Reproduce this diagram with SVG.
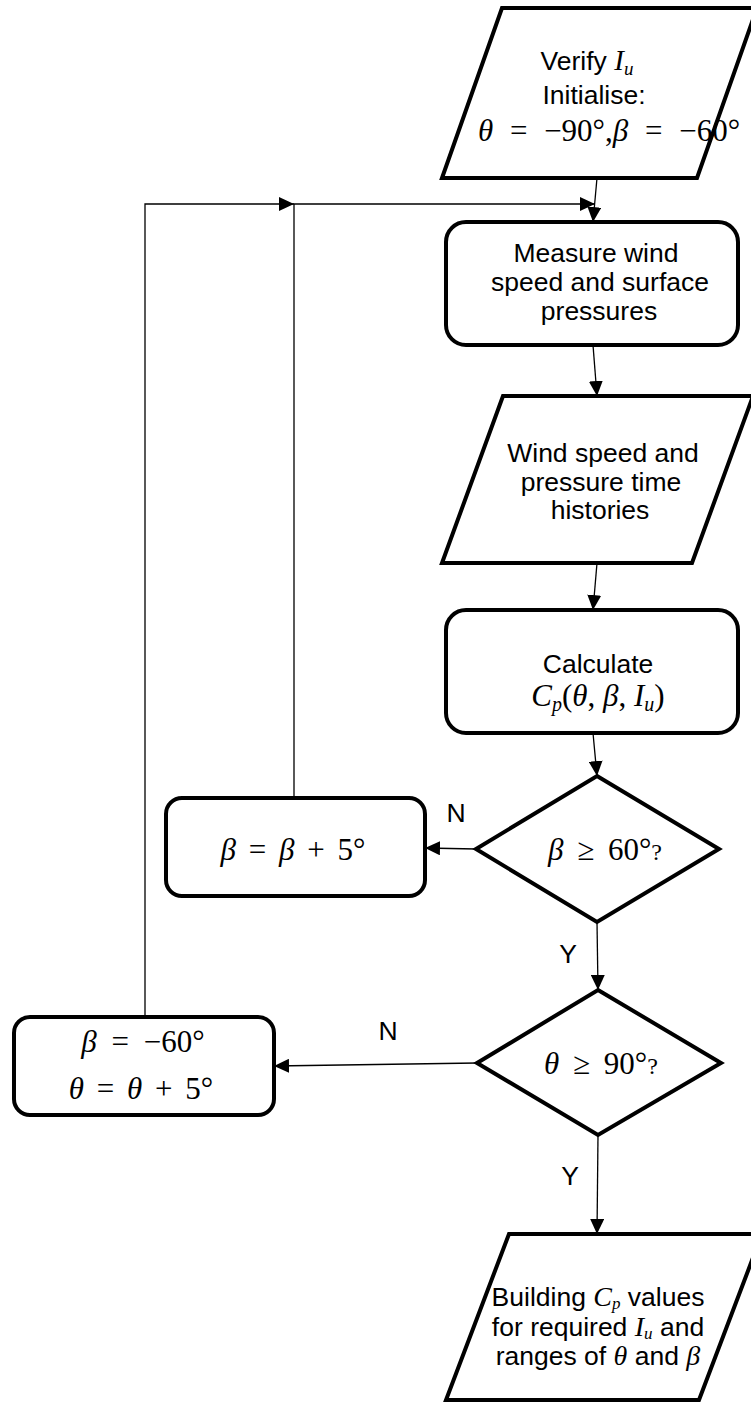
<svg xmlns="http://www.w3.org/2000/svg" width="751" height="1403" viewBox="0 0 751 1403">
<style>
.node{fill:#fff;stroke:#000;stroke-width:4;stroke-linejoin:miter}
.conn{fill:none;stroke:#000;stroke-width:1.3}
.t{font-family:"Liberation Sans",Arial,sans-serif;font-size:26.5px;fill:#000;text-anchor:middle}
.m{font-family:"Liberation Serif","Times New Roman",serif;font-size:31px;fill:#000;text-anchor:middle}
.i{font-family:"Liberation Serif","Times New Roman",serif;font-style:italic}
</style>
<defs>
<marker id="ah" markerUnits="userSpaceOnUse" markerWidth="16" markerHeight="14" refX="15" refY="7" orient="auto">
<path d="M0,0 L15,7 L0,14 z" fill="#000"/>
</marker>
</defs>
<g id="connectors">
<line class="conn" x1="597" y1="178" x2="593" y2="222" marker-end="url(#ah)"/>
<line class="conn" x1="593" y1="345" x2="597" y2="396" marker-end="url(#ah)"/>
<line class="conn" x1="597" y1="563" x2="593" y2="610" marker-end="url(#ah)"/>
<line class="conn" x1="593" y1="733" x2="597" y2="776" marker-end="url(#ah)"/>
<line class="conn" x1="476" y1="849" x2="425" y2="848" marker-end="url(#ah)"/>
<line class="conn" x1="597" y1="922" x2="598" y2="990" marker-end="url(#ah)"/>
<line class="conn" x1="477" y1="1063" x2="274" y2="1066" marker-end="url(#ah)"/>
<line class="conn" x1="598" y1="1135" x2="597" y2="1234" marker-end="url(#ah)"/>
<polyline class="conn" points="294,798 294,204 595,204" marker-end="url(#ah)"/>
<polyline class="conn" points="145,1017 145,204 294,204" marker-end="url(#ah)"/>
<text class="t" x="456" y="822">N</text>
<text class="t" x="568" y="963">Y</text>
<text class="t" x="388" y="1040">N</text>
<text class="t" x="570" y="1185">Y</text>
</g>
<g id="init">
<polygon class="node" points="502,8 757,8 697,178 442,178"/>
<text class="t" x="587" y="70">Verify <tspan class="i" font-size="29">I</tspan><tspan class="i" font-size="19" baseline-shift="-5">u</tspan></text>
<text class="t" x="594" y="104">Initialise:</text>
<text class="m" x="609" y="141"><tspan class="i">θ</tspan><tspan dx="9"> =</tspan><tspan dx="9"> −90°,</tspan><tspan class="i">β</tspan><tspan dx="9"> =</tspan><tspan dx="9"> −60°</tspan></text>
</g>
<g id="measure">
<rect class="node" x="446" y="222" width="292" height="123" rx="20"/>
<text class="t" x="596" y="262">Measure wind</text>
<text class="t" x="600" y="291">speed and surface</text>
<text class="t" x="599" y="320">pressures</text>
</g>
<g id="histories">
<polygon class="node" points="503,396 753,396 692,563 442,563"/>
<text class="t" x="603" y="462">Wind speed and</text>
<text class="t" x="601" y="491">pressure time</text>
<text class="t" x="600" y="519">histories</text>
</g>
<g id="calculate">
<rect class="node" x="446" y="610" width="292" height="123" rx="20"/>
<text class="t" x="598" y="673">Calculate</text>
<text class="m" x="598" y="706" font-size="30"><tspan class="i">C</tspan><tspan class="i" font-size="20" baseline-shift="-5">p</tspan>(<tspan class="i">θ</tspan>, <tspan class="i">β</tspan>, <tspan class="i">I</tspan><tspan class="i" font-size="20" baseline-shift="-5">u</tspan>)</text>
</g>
<g id="beta-check">
<polygon class="node" points="597,776 719,849 597,922 476,849"/>
<text class="m" x="605" y="860"><tspan class="i">β</tspan><tspan dx="6"> ≥</tspan><tspan dx="6"> 60°</tspan><tspan font-size="24">?</tspan></text>
</g>
<g id="beta-inc">
<rect class="node" x="166" y="798" width="259" height="98" rx="16"/>
<text class="m" x="293" y="860" font-size="32"><tspan class="i">β</tspan><tspan dx="5"> =</tspan><tspan dx="5"> </tspan><tspan class="i">β</tspan><tspan dx="5"> +</tspan><tspan dx="5"> 5°</tspan></text>
</g>
<g id="theta-check">
<polygon class="node" points="598,990 721,1063 598,1135 477,1063"/>
<text class="m" x="601" y="1074"><tspan class="i">θ</tspan><tspan dx="6"> ≥</tspan><tspan dx="6"> 90°</tspan><tspan font-size="24">?</tspan></text>
</g>
<g id="theta-inc">
<rect class="node" x="14" y="1017" width="260" height="98" rx="16"/>
<text class="m" x="143" y="1052" font-size="32"><tspan class="i">β</tspan><tspan dx="7"> =</tspan><tspan dx="7"> −60°</tspan></text>
<text class="m" x="141" y="1099" font-size="32"><tspan class="i">θ</tspan><tspan dx="5"> =</tspan><tspan dx="5"> </tspan><tspan class="i">θ</tspan><tspan dx="5"> +</tspan><tspan dx="5"> 5°</tspan></text>
</g>
<g id="result">
<polygon class="node" points="509,1234 762,1234 699,1400 446,1400"/>
<text class="t" x="598" y="1306">Building <tspan class="i" font-size="28">C</tspan><tspan class="i" font-size="17" baseline-shift="-3">p</tspan> values</text>
<text class="t" x="598" y="1336">for required <tspan class="i" font-size="28">I</tspan><tspan class="i" font-size="17" baseline-shift="-3">u</tspan> and</text>
<text class="t" x="598" y="1365">ranges of <tspan class="i" font-size="28">θ</tspan> and <tspan class="i" font-size="28">β</tspan></text>
</g>
</svg>
